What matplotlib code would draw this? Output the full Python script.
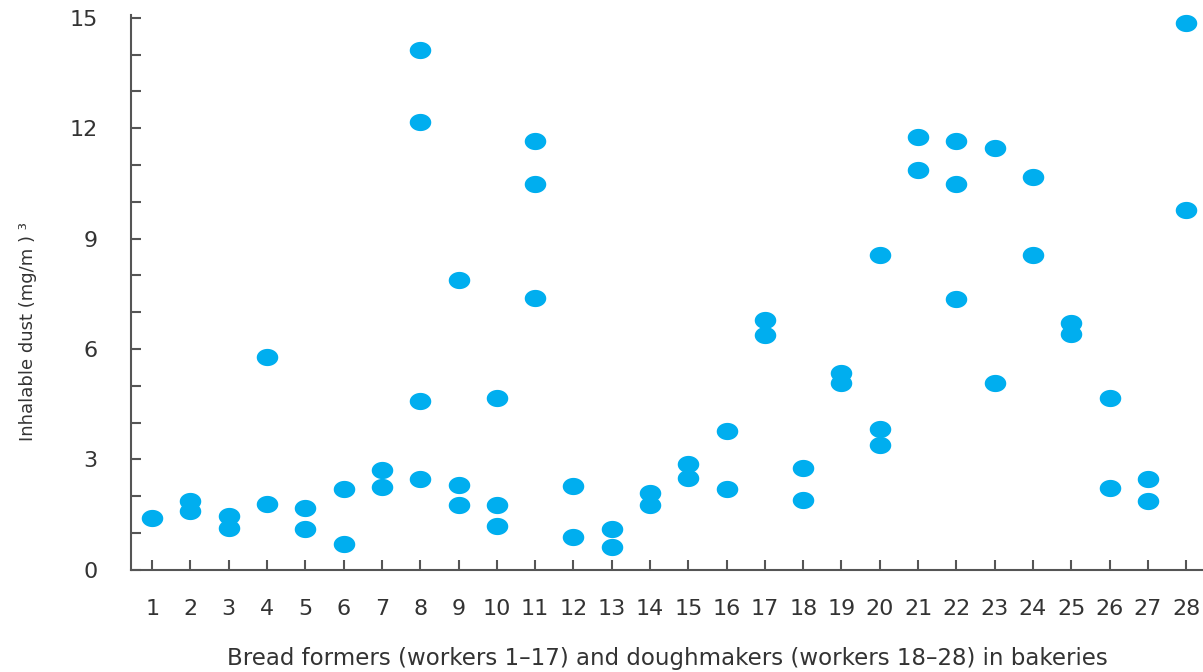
import matplotlib.pyplot as plt
import numpy as np
from matplotlib.path import Path
from matplotlib.ticker import MultipleLocator

# Inhalable dust per worker (two or more samples each)
workers = list(range(1, 29))
dust = [
    [1.42],
    [1.88, 1.59],
    [1.45, 1.14],
    [5.78, 1.80],
    [1.69, 1.10],
    [2.21, 0.69],
    [2.70, 2.25],
    [14.13, 12.16, 4.58, 2.48],
    [7.88, 2.30, 1.77],
    [4.68, 1.77, 1.20],
    [11.66, 10.49, 7.38],
    [2.28, 0.90],
    [1.10, 0.62],
    [2.09, 1.75],
    [2.87, 2.49],
    [3.76, 2.19],
    [6.78, 6.39],
    [2.77, 1.89],
    [5.35, 5.09],
    [8.56, 3.82, 3.38],
    [11.75, 10.87],
    [11.66, 10.47, 7.36],
    [11.45, 5.08],
    [10.68, 8.56],
    [6.71, 6.42],
    [4.67, 2.22],
    [2.48, 1.88],
    [14.85, 9.78],
]

xs = [w for w, vals in zip(workers, dust) for _ in vals]
ys = [v for vals in dust for v in vals]

# ellipse marker, a bit wider than tall
t = np.linspace(0, 2 * np.pi, 60)
ellipse = Path(np.column_stack([0.5 * np.cos(t), 0.4 * np.sin(t)]))

txt = '#333333'
fig = plt.figure(figsize=(12.03, 6.72), dpi=100)
ax = fig.add_axes([0.109, 0.152, 0.891, 0.826])

ax.scatter(xs, ys, marker=ellipse, s=15.5 ** 2, color='#00AEEF',
           linewidths=0, clip_on=False, zorder=3)

ax.set_xlim(0.45, 28.44)
ax.set_ylim(0, 15.08)
ax.set_xticks(workers)
ax.yaxis.set_major_locator(MultipleLocator(3))
ax.yaxis.set_minor_locator(MultipleLocator(1))

for s in ['top', 'right']:
    ax.spines[s].set_visible(False)
for s in ['left', 'bottom']:
    ax.spines[s].set_color('#555555')
    ax.spines[s].set_linewidth(1.5)

ax.tick_params(axis='x', direction='in', length=7, width=1.5, color='#555555',
               pad=21, labelsize=16, labelcolor=txt)
ax.tick_params(axis='y', which='both', direction='in', length=7, width=1.5,
               color='#555555', pad=24, labelsize=16, labelcolor=txt)

ax.set_xlabel('Bread formers (workers 1\u201317) and doughmakers (workers 18\u201328) in bakeries',
              fontsize=16.5, color=txt, labelpad=20)
ax.set_ylabel('Inhalable dust (mg/m ) \u00b3', fontsize=13, color=txt)
ax.yaxis.set_label_coords(-0.088, 0.43)

fig.savefig('out.png', dpi=100)
plt.close(fig)
